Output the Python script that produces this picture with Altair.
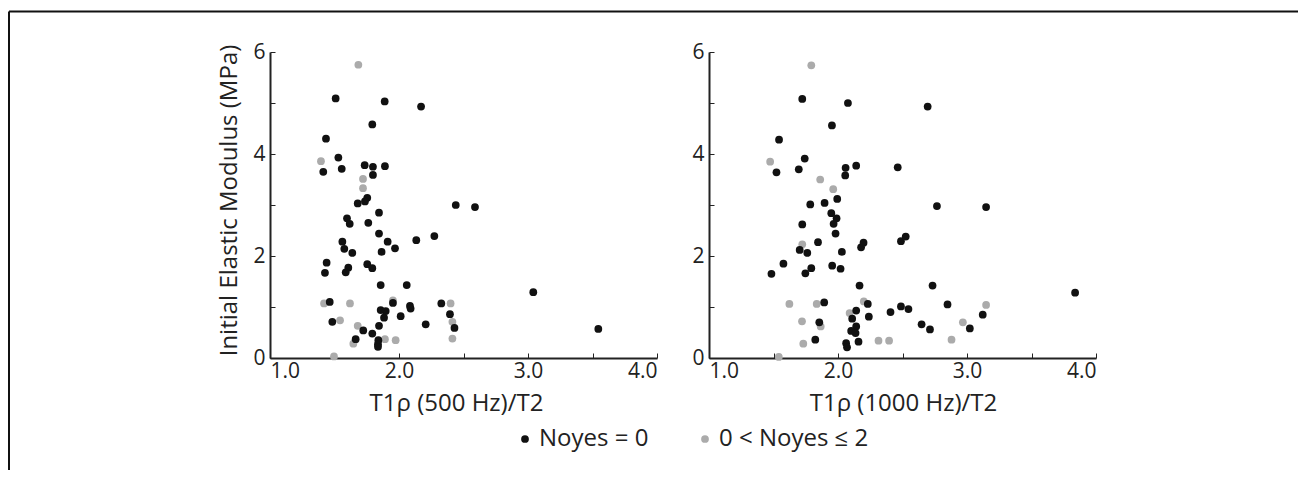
import altair as alt
import pandas as pd

# ---- data ----
groups = ["Noyes = 0", "0 < Noyes \u2264 2"]
colors = ["#111111", "#ababab"]

left_black_x = [1.509, 1.889, 2.171, 1.793, 1.434, 1.53, 1.413, 1.556, 1.734, 1.798, 1.891, 1.798, 1.754, 1.736,
                1.680, 1.845, 2.44, 2.589, 1.597, 1.618, 1.762, 1.845, 1.561, 1.912, 2.134, 2.274, 1.576, 1.638,
                1.865, 1.969, 1.439, 1.426, 1.607, 1.587, 1.754, 1.793, 1.858, 2.06, 1.463, 1.953, 2.085, 2.09,
                2.328, 2.395, 1.858, 1.897, 1.884, 2.013, 1.483, 2.207, 1.723, 1.845, 1.793, 2.43, 1.664, 1.84,
                1.837, 1.837, 3.041, 3.545]
left_black_y = [5.09, 5.03, 4.93, 4.58, 4.30, 3.93, 3.65, 3.71, 3.78, 3.75, 3.76, 3.59, 3.14, 3.07,
                3.03, 2.85, 3.00, 2.96, 2.74, 2.63, 2.65, 2.44, 2.28, 2.28, 2.31, 2.39, 2.14, 2.06,
                2.08, 2.15, 1.87, 1.67, 1.77, 1.68, 1.84, 1.76, 1.43, 1.43, 1.10, 1.08, 1.02, 0.97,
                1.07, 0.86, 0.94, 0.92, 0.79, 0.82, 0.71, 0.66, 0.54, 0.63, 0.48, 0.59, 0.37, 0.35,
                0.27, 0.22, 1.29, 0.57]
left_gray_x = [1.685, 1.395, 1.721, 1.721, 1.419, 1.62, 1.953, 2.40, 1.543, 1.68, 2.414, 1.646, 1.891, 1.974,
               2.414, 1.496]
left_gray_y = [5.75, 3.86, 3.51, 3.33, 1.07, 1.07, 1.13, 1.07, 0.74, 0.63, 0.71, 0.28, 0.37, 0.35,
               0.38, 0.03]

right_black_x = [1.723, 2.077, 2.695, 1.953, 1.543, 1.742, 1.523, 1.696, 2.059, 2.141, 2.463, 2.056, 1.994, 1.785,
                 1.896, 2.767, 1.948, 1.989, 1.966, 1.723, 1.981, 1.845, 1.703, 1.762, 2.03, 2.179, 2.198, 2.488,
                 2.525, 1.577, 1.484, 1.747, 1.793, 1.955, 2.02, 2.167, 2.733, 1.893, 2.231, 2.849, 2.488, 2.546,
                 2.141, 2.407, 2.11, 2.239, 1.855, 2.141, 2.102, 2.136, 2.648, 2.713, 1.824, 2.159, 2.063, 2.07,
                 3.148, 3.122, 3.022, 3.838]
right_black_y = [5.08, 5.00, 4.93, 4.56, 4.28, 3.91, 3.64, 3.70, 3.73, 3.77, 3.74, 3.58, 3.12, 3.01,
                 3.04, 2.98, 2.84, 2.74, 2.63, 2.62, 2.44, 2.27, 2.12, 2.06, 2.08, 2.17, 2.26, 2.29,
                 2.38, 1.85, 1.65, 1.66, 1.76, 1.81, 1.75, 1.42, 1.42, 1.09, 1.06, 1.05, 1.01, 0.96,
                 0.93, 0.90, 0.77, 0.81, 0.70, 0.62, 0.53, 0.49, 0.66, 0.56, 0.36, 0.32, 0.29, 0.21,
                 2.96, 0.85, 0.58, 1.28]
right_gray_x = [1.793, 1.474, 1.862, 1.963, 1.723, 1.623, 1.835, 2.20, 2.09, 1.721, 1.866, 2.314, 2.396, 1.731,
                1.541, 3.148, 2.968, 2.88]
right_gray_y = [5.74, 3.85, 3.50, 3.31, 2.23, 1.06, 1.06, 1.11, 0.88, 0.72, 0.62, 0.34, 0.34, 0.28,
                0.02, 1.04, 0.70, 0.36]

x_titles = ["T1\u03c1 (500 Hz)/T2", "T1\u03c1 (1000 Hz)/T2"]
y_title = "Initial Elastic Modulus (MPa)"
x_label_values = [1, 2, 3, 4]
x_tick_values = [1, 1.5, 2, 2.5, 3, 3.5, 4]
y_label_values = [0, 2, 4, 6]
y_tick_values = [0, 1, 2, 3, 4, 5, 6]


def make_df(gx, gy, bx, by):
    return pd.DataFrame({
        "x": gx + bx,
        "y": gy + by,
        "group": [groups[1]] * len(gx) + [groups[0]] * len(bx),
    })


W, H = 387, 306
FONT = "Open Sans"
TXT = "#222222"

xscale = alt.Scale(domain=[1, 4], nice=False, zero=False)
yscale = alt.Scale(domain=[0, 6], nice=False, zero=False)
cscale = alt.Scale(domain=groups, range=colors)

legend = alt.Legend(orient="none", legendX=243, legendY=375, direction="horizontal", title=None,
                    labelFontSize=24, labelFont=FONT, labelColor=TXT, symbolType="circle",
                    symbolSize=60, symbolStrokeWidth=0, labelOffset=2, columnPadding=44)


def panel(df, xtitle, ytitle, title_x, frame=False):
    base = alt.Chart(df)
    pts = base.mark_circle(size=60, opacity=1, clip=False).encode(
        x=alt.X("x:Q", scale=xscale,
                axis=alt.Axis(values=x_label_values, format=".1f", ticks=False, grid=False,
                              domainWidth=2, domainColor=TXT, labelFontSize=21, labelFont=FONT,
                              labelColor=TXT, labelPadding=2, title=xtitle, titleFontSize=24,
                              titleFont=FONT, titleFontWeight="normal", titleColor=TXT,
                              titlePadding=10, titleX=title_x)),
        y=alt.Y("y:Q", scale=yscale,
                axis=alt.Axis(values=y_label_values, ticks=False, grid=False,
                              domainWidth=2, domainColor=TXT, labelFontSize=21, labelFont=FONT,
                              labelColor=TXT, labelPadding=5, title=ytitle, titleFontSize=24,
                              titleFont=FONT, titleFontWeight="normal", titleColor=TXT,
                              titlePadding=11, titleY=148)),
        color=alt.Color("group:N", scale=cscale, legend=legend),
    )
    ticks = base.mark_circle(opacity=0).encode(
        x=alt.X("x:Q", scale=xscale,
                axis=alt.Axis(orient="top", offset=-H, values=x_tick_values, labels=False,
                              domain=False, grid=False, ticks=True, tickSize=5, tickWidth=1,
                              tickColor=TXT, title=None)),
        y=alt.Y("y:Q", scale=yscale,
                axis=alt.Axis(orient="right", offset=-W, values=y_tick_values, labels=False,
                              domain=False, grid=False, ticks=True, tickSize=5, tickWidth=1,
                              tickColor=TXT, title=None)),
    )
    layers = [ticks, pts]
    if frame:
        fd = pd.DataFrame({"k": [0]})
        top = alt.Chart(fd).mark_rule(color="#111111", strokeWidth=2, clip=False).encode(
            x=alt.value(-261), x2=alt.value(1028), y=alt.value(-40.5))
        left = alt.Chart(fd).mark_rule(color="#111111", strokeWidth=2, clip=False).encode(
            x=alt.value(-261), y=alt.value(-40.5), y2=alt.value(418))
        layers = [top, left] + layers
    return alt.layer(*layers).resolve_axis(x="independent", y="independent").properties(width=W, height=H)


left_df = make_df(left_gray_x, left_gray_y, left_black_x, left_black_y)
right_df = make_df(right_gray_x, right_gray_y, right_black_x, right_black_y)

chart = alt.hconcat(
    panel(left_df, x_titles[0], y_title, 186, frame=True),
    panel(right_df, x_titles[1], None, 194),
    spacing=52, bounds="flush",
).properties(
    padding={"left": 0, "top": 2, "right": 0, "bottom": 0}
).configure_view(stroke=None)

chart.save("out.html", embed_options={"renderer": "svg", "actions": False})
